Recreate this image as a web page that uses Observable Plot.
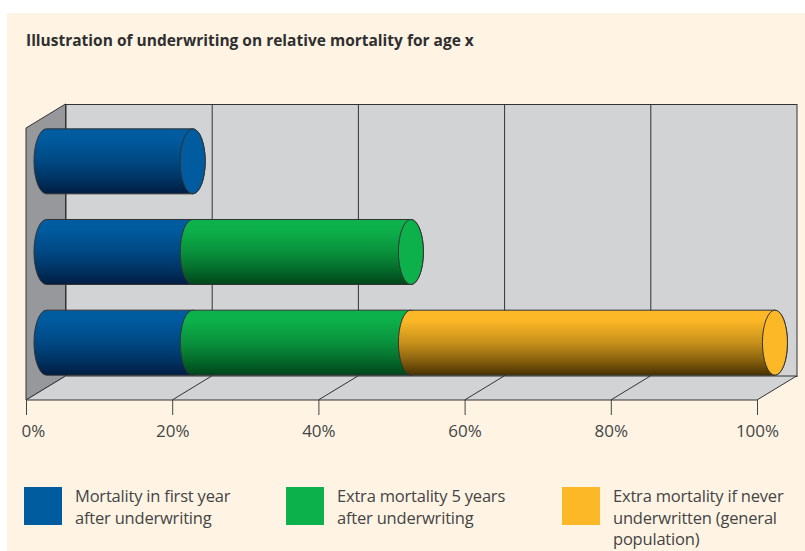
<!DOCTYPE html>
<html>
<head>
<meta charset="utf-8">
<script src="https://cdn.jsdelivr.net/npm/d3@7"></script>
<script src="https://cdn.jsdelivr.net/npm/@observablehq/plot@0.6"></script>
<style>
  html, body { margin: 0; padding: 0; background: #fff; }
  #panel { position: absolute; left: 7px; top: 13px; width: 798px; height: 538px; background: #fff4e4; overflow: hidden; }
  #title { position: absolute; left: 19px; top: 16px; font: 700 15.5px "Open Sans", sans-serif; color: #2f2f2f; white-space: nowrap; }
  #chart { position: absolute; left: -7px; top: 87px; }
  #chart svg { display: block; }
  .key { position: absolute; top: 474px; display: flex; }
  .key i { display: block; width: 38px; height: 38px; flex: none; }
  .key span { margin-left: 13px; font: 400 16.5px/21.7px "Open Sans", sans-serif; letter-spacing: -0.2px; color: #444; margin-top: -2px; white-space: pre; }
</style>
</head>
<body>
<div id="panel">
  <div id="title">Illustration of underwriting on relative mortality for age x</div>
  <div id="chart"></div>
</div>
<script>
// Cohorts, top to bottom
const rows = ["First year", "Five years", "General population"];

// Share of general-population mortality, one value per cohort
const firstYear = [20, 20, 20];
const fiveYears = [0, 29.85, 29.85];
const neverUnderwritten = [0, 0, 49.8];

const seriesLabels = [
  "Mortality in first year\nafter underwriting",
  "Extra mortality 5 years\nafter underwriting",
  "Extra mortality if never\nunderwritten (general\npopulation)"
];
const seriesColors = ["#005b9f", "#0db14b", "#fdb827"];
const seriesShades = ["#001d42", "#00451a", "#483200"];
const keyLefts = [17, 279, 555];
const percentTicks = [0, 20, 40, 60, 80, 100];

const ink = "#333";
const wall = "#d1d3d4";
const sideWall = "#97989c";
const depth = {dx: 39.5, dy: -24};

// One record per drawn segment, stacked left to right inside each cohort
const columns = [firstYear, fiveYears, neverUnderwritten];
const segments = rows.flatMap((row, r) => {
  const last = d3.max(columns.map((c, s) => (c[r] > 0 ? s : -1)));
  return columns
    .map((c, s) => ({row, series: s, value: c[r], isEnd: s === last}))
    .filter((d) => d.value > 0);
});

// Vertical shading for the cylinder bodies: flat at the top, deepening toward the base
const shadeStops = [[15, 0], [50, 0.3], [75, 0.62], [100, 1]];
const gradients = () => {
  const defs = d3.create("svg:defs");
  seriesColors.forEach((color, s) => {
    const g = defs.append("linearGradient")
      .attr("id", `shade-${s}`)
      .attr("x1", 0).attr("x2", 0).attr("y1", 0).attr("y2", 1);
    const mix = d3.interpolateRgb(color, seriesShades[s]);
    for (const [offset, t] of shadeStops) {
      g.append("stop").attr("offset", `${offset}%`).attr("stop-color", mix(t));
    }
  });
  return defs.node();
};

// Side wall, floor and the floor's slanted lines, all hung from the x scale
const room = (index, {x}, values, {marginTop, height, marginBottom}) => {
  const top = marginTop;
  const bottom = height - marginBottom;
  const g = d3.create("svg:g").attr("stroke", ink).attr("stroke-linejoin", "miter");
  const x0 = x(percentTicks[0]);
  const xN = x(percentTicks[percentTicks.length - 1]);
  const poly = (pts, fill) => g.append("path")
    .attr("d", "M" + pts.join("L") + "Z").attr("fill", fill);
  poly([[x0, top], [x0 + depth.dx, top + depth.dy], [x0 + depth.dx, bottom + depth.dy], [x0, bottom]], sideWall);
  poly([[x0, bottom], [x0 + depth.dx, bottom + depth.dy], [xN + depth.dx, bottom + depth.dy], [xN, bottom]], wall);
  for (const t of percentTicks.slice(1, -1)) {
    g.append("line")
      .attr("x1", x(t)).attr("y1", bottom)
      .attr("x2", x(t) + depth.dx).attr("y2", bottom + depth.dy);
  }
  return g.node();
};

// Turns each stacked bar into a cylinder with a rounded back and, at the end of the stack, a flat cap
function cylinder(index, scales, values, dimensions, context, next) {
  const g = next(index, scales, values, dimensions, context);
  d3.select(g).selectAll("rect").each(function (_, i) {
    const rect = d3.select(this);
    const [px, py, w, h] = ["x", "y", "width", "height"].map((a) => +rect.attr(a));
    const ry = h / 2;
    const rx = ry * 0.385;
    const d = segments[index[i]];
    const parent = d3.select(this.parentNode);
    parent.insert("path", () => this)
      .attr("fill", rect.attr("fill"))
      .attr("d", `M${px},${py}A${rx},${ry} 0 0 0 ${px},${py + h}L${px + w},${py + h}A${rx},${ry} 0 0 0 ${px + w},${py}Z`);
    if (d.isEnd) {
      parent.insert("ellipse", () => this)
        .attr("cx", px + w).attr("cy", py + ry)
        .attr("rx", rx).attr("ry", ry)
        .attr("fill", seriesColors[d.series]);
    }
    rect.remove();
  });
  return g;
}

const percent = (d) => `${d}%`;
const tickColor = "#444";

const chart = Plot.plot({
  width: 805,
  height: 352,
  marginTop: 28,
  marginLeft: 26,
  marginRight: 48,
  marginBottom: 52,
  style: {background: "transparent", fontFamily: "'Open Sans', sans-serif", fontSize: "17px"},
  x: {domain: [0, 100]},
  y: {domain: rows, axis: null, paddingInner: 0.283, paddingOuter: 0.1415, round: false},
  color: {type: "identity"},
  marks: [
    gradients,
    Plot.frame({fill: wall, stroke: ink, ...depth}),
    Plot.ruleX(percentTicks.slice(1, -1), {stroke: ink, ...depth}),
    room,
    Plot.barX(segments, {
      x: "value",
      y: "row",
      fill: (d) => `url(#shade-${d.series})`,
      stroke: ink,
      strokeWidth: 1,
      dx: 20.5,
      dy: -12,
      render: cylinder
    }),
    Plot.axisX(percentTicks.slice(1), {
      anchor: "bottom", tickSize: 15, tickPadding: 9, tickFormat: percent, label: null,
      stroke: tickColor, fill: tickColor
    }),
    Plot.axisX([0], {
      anchor: "bottom", tickSize: 15, tickPadding: 9, tickFormat: () => "", label: null, stroke: tickColor
    }),
    Plot.axisX([0], {
      anchor: "bottom", tickSize: 0, tickPadding: 24, tickFormat: percent, label: null,
      stroke: "none", fill: tickColor, dx: 7
    })
  ]
});
document.getElementById("chart").append(chart);

// Colour key under the chart
const panel = d3.select("#panel");
seriesLabels.forEach((label, s) => {
  const key = panel.append("div").attr("class", "key").style("left", `${keyLefts[s]}px`);
  key.append("i").style("background", seriesColors[s]);
  key.append("span").text(label);
});
</script>
</body>
</html>
